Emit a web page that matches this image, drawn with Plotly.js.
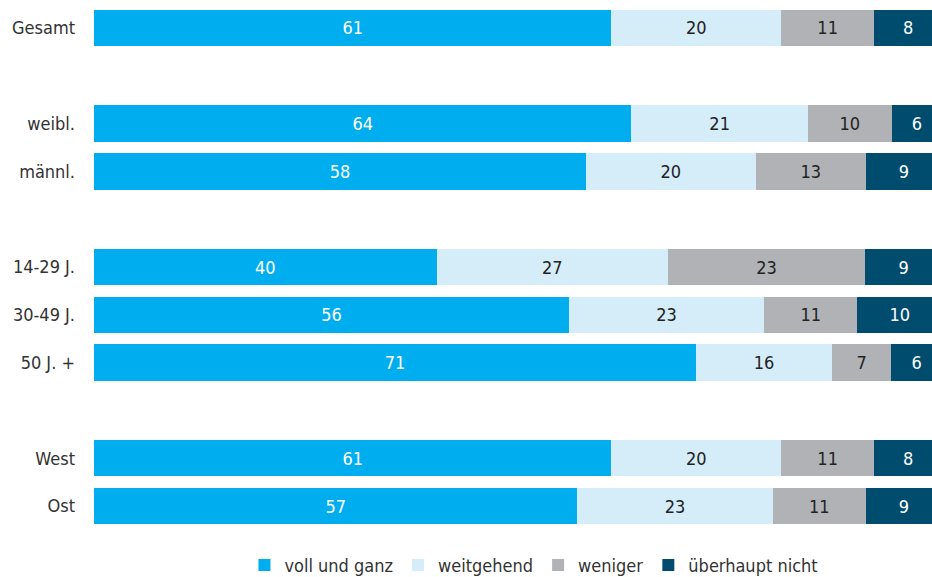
<!DOCTYPE html>
<html>
<head>
<meta charset="utf-8">
<script src="https://cdn.plot.ly/plotly-3.0.1.min.js"></script>
<style>html,body{margin:0;padding:0;background:#fff;}#chart{width:932px;height:577px;}</style>
</head>
<body>
<div id="chart"></div>
<script>
const categories = ["Gesamt","weibl.","männl.","14-29 J.","30-49 J.","50 J. +","West","Ost"];
const groupIndex = [0,1,1,2,2,2,3,3];
const seriesNames = ["voll und ganz","weitgehend","weniger","überhaupt nicht"];
const voll = [61,64,58,40,56,71,61,57];
const weitgehend = [20,21,20,27,23,16,20,23];
const weniger = [11,10,13,23,11,7,11,11];
const ueberhaupt = [8,6,9,9,10,6,8,9];

const colors = ["#00AEEF","#D5ECF9","#B1B2B6","#004C6F"];
const textColors = ["#ffffff","#222222","#222222","#ffffff"];
const FONT = "'Liberation Sans Narrow', 'Arial Narrow', 'DejaVu Sans Condensed', sans-serif";

const yPos = categories.map((c,i) => i + groupIndex[i]);
const allSeries = [voll, weitgehend, weniger, ueberhaupt];

const traces = allSeries.map((vals, k) => ({
  type: 'bar',
  orientation: 'h',
  name: seriesNames[k],
  x: vals,
  y: yPos,
  text: vals.map(String),
  texttemplate: '%{text}',
  textposition: 'inside',
  insidetextanchor: 'middle',
  textangle: 0,
  constraintext: 'none',
  insidetextfont: {color: textColors[k], size: 18, family: FONT},
  marker: {color: colors[k], line: {width: 0}},
  hoverinfo: 'skip'
}));

const layout = {
  width: 932, height: 577,
  margin: {l: 94, r: 0, t: 4, b: 47, autoexpand: false},
  barmode: 'stack',
  barnorm: 'percent',
  bargap: 0.24,
  paper_bgcolor: '#ffffff',
  plot_bgcolor: '#ffffff',
  font: {family: FONT, size: 18, color: '#333333'},
  xaxis: {range: [0, 98.8], visible: false, fixedrange: true},
  yaxis: {
    range: [10.5, -0.5],
    tickmode: 'array',
    tickvals: yPos,
    ticktext: categories,
    ticks: '',
    ticklabelstandoff: 18,
    showgrid: false, zeroline: false, showline: false,
    tickfont: {size: 18, color: '#333333', family: FONT},
    fixedrange: true
  },
  showlegend: true,
  legend: {
    orientation: 'h',
    x: 0.525, xanchor: 'center',
    y: -0.067, yanchor: 'middle',
    font: {size: 18, color: '#333333', family: FONT},
    traceorder: 'normal',
    itemclick: false
  }
};

Plotly.newPlot('chart', traces, layout, {displayModeBar: false, staticPlot: true});
</script>
</body>
</html>
